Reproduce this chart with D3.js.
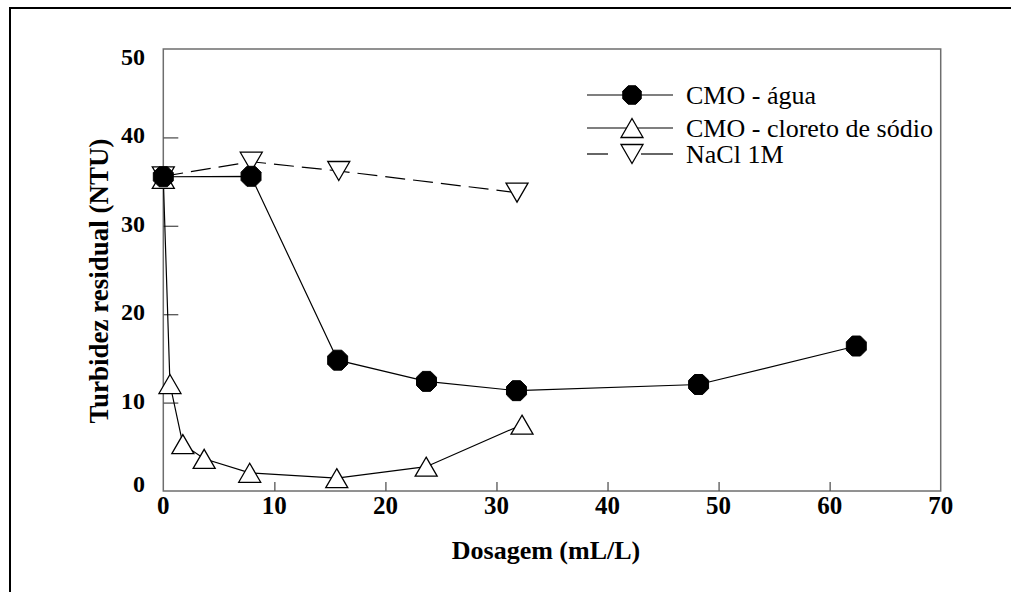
<!DOCTYPE html>
<html>
<head>
<meta charset="utf-8">
<title>Turbidez residual</title>
<script src="https://d3js.org/d3.v7.min.js"></script>
<style>
  body { margin: 0; background: #fff; }
  svg { display: block; font-family: "Liberation Serif", "Times New Roman", serif; }
</style>
</head>
<body>
<script>
// data
var aguaX = [0, 7.9, 15.7, 23.7, 31.8, 48.2, 62.4];
var aguaY = [35.55, 35.6, 14.8, 12.4, 11.35, 12.05, 16.4];

var cloretoX = [0, 0.6, 1.76, 3.68, 7.78, 15.62, 23.67, 32.3];
var cloretoY = [35.3, 12.1, 5.3, 3.64, 2.06, 1.45, 2.75, 7.5];

var naclX = [0, 7.92, 15.8, 31.85];
var naclY = [35.6, 37.25, 36.2, 33.75];

var xTicks = [0, 10, 20, 30, 40, 50, 60, 70];
var yTicks = [0, 10, 20, 30, 40, 50];
var seriesNames = ["CMO - água", "CMO - cloreto de sódio", "NaCl 1M"];

var width = 1015, height = 592;
var plotL = 163.3, plotR = 940.7, plotT = 49, plotB = 491;

var svg = d3.select("body").append("svg")
  .attr("width", width)
  .attr("height", height);

// outer frame (top and left edges only visible)
svg.append("line").attr("x1", 9).attr("y1", 8).attr("x2", 1011).attr("y2", 8)
  .attr("stroke", "#000").attr("stroke-width", 2);
svg.append("line").attr("x1", 10).attr("y1", 7).attr("x2", 10).attr("y2", height)
  .attr("stroke", "#000").attr("stroke-width", 2);

var x = d3.scaleLinear().domain([0, 70]).range([plotL, plotR]);
var y = d3.scaleLinear().domain([0, 50]).range([plotB, plotT]);

// plot frame
svg.append("rect")
  .attr("x", plotL).attr("y", plotT)
  .attr("width", plotR - plotL).attr("height", plotB - plotT)
  .attr("fill", "none").attr("stroke", "#6e6e6e").attr("stroke-width", 1.5);

// inward ticks
var xAxis = d3.axisBottom(x).tickValues(xTicks.slice(1, -1)).tickSizeInner(-9).tickSizeOuter(0).tickFormat("");
var yAxis = d3.axisLeft(y).tickValues(yTicks.slice(1, -1)).tickSizeInner(-15).tickSizeOuter(0).tickFormat("");
var gx = svg.append("g").attr("transform", "translate(0," + plotB + ")").call(xAxis);
var gy = svg.append("g").attr("transform", "translate(" + plotL + ",0)").call(yAxis);
gx.select(".domain").remove();
gy.select(".domain").remove();
gx.selectAll("line").attr("stroke", "#555").attr("stroke-width", 1.3);
gy.selectAll("line").attr("stroke", "#555").attr("stroke-width", 1.3);

// tick labels
svg.append("g").selectAll("text").data(xTicks).enter().append("text")
  .attr("x", function(d){ return x(d); })
  .attr("y", 514)
  .attr("text-anchor", "middle")
  .attr("font-size", 25).attr("font-weight", "bold")
  .text(function(d){ return d; });

svg.append("g").selectAll("text").data(yTicks).enter().append("text")
  .attr("x", 145)
  .attr("y", function(d){
    if (d == 50) return y(d) + 16;
    if (d == 0) return y(d) + 1;
    return y(d) + 6;
  })
  .attr("text-anchor", "end")
  .attr("font-size", 24).attr("font-weight", "bold")
  .text(function(d){ return d; });

// axis titles
svg.append("text")
  .attr("transform", "translate(108,281) rotate(-90)")
  .attr("text-anchor", "middle")
  .attr("font-size", 27).attr("font-weight", "bold")
  .text("Turbidez residual (NTU)");

svg.append("text")
  .attr("x", 546).attr("y", 559)
  .attr("text-anchor", "middle")
  .attr("font-size", 26).attr("font-weight", "bold")
  .text("Dosagem (mL/L)");

// markers
function octagon(g, r) {
  var pts = d3.range(8).map(function(i){
    var a = Math.PI / 8 + i * Math.PI / 4;
    return [r * Math.cos(a), r * Math.sin(a)];
  });
  return g.append("polygon").attr("points", pts.join(" "))
    .attr("fill", "#000").attr("stroke", "#000").attr("stroke-width", 1);
}
function triangle(g, up) {
  var w = 11, h = 9.5;
  var pts = up ? [[0, -h], [w, h], [-w, h]] : [[0, h], [w, -h], [-w, -h]];
  return g.append("polygon").attr("points", pts.join(" "))
    .attr("fill", "#fff").attr("stroke", "#000").attr("stroke-width", 1.3);
}

var line = d3.line().x(function(d){ return x(d[0]); }).y(function(d){ return y(d[1]); });

function drawSeries(xs, ys, dash, marker) {
  var pts = d3.zip(xs, ys);
  svg.append("path").datum(pts)
    .attr("d", line)
    .attr("fill", "none").attr("stroke", "#000").attr("stroke-width", 1.2)
    .attr("stroke-dasharray", dash);
  svg.append("g").selectAll("g").data(pts).enter().append("g")
    .attr("transform", function(d){ return "translate(" + x(d[0]) + "," + y(d[1]) + ")"; })
    .each(function(){ marker(d3.select(this)); });
}

drawSeries(naclX, naclY, "20,8", function(g){ triangle(g, false); });
drawSeries(cloretoX, cloretoY, null, function(g){ triangle(g, true); });
drawSeries(aguaX, aguaY, null, function(g){ octagon(g, 10.8); });

// legend
var legRows = [95, 128, 154];
var legMarkers = [
  function(g){ octagon(g, 10); },
  function(g){ triangle(g, true); },
  function(g){ triangle(g, false); }
];
var leg = svg.append("g");
legRows.forEach(function(ry, i){
  if (i < 2) {
    leg.append("line").attr("x1", 587).attr("x2", 673).attr("y1", ry).attr("y2", ry)
      .attr("stroke", "#000").attr("stroke-width", 1.2);
  } else {
    leg.append("line").attr("x1", 587).attr("x2", 608).attr("y1", ry).attr("y2", ry)
      .attr("stroke", "#000").attr("stroke-width", 1.2);
    leg.append("line").attr("x1", 641).attr("x2", 673).attr("y1", ry).attr("y2", ry)
      .attr("stroke", "#000").attr("stroke-width", 1.2);
  }
  var m = leg.append("g").attr("transform", "translate(632," + ry + ")");
  legMarkers[i](m);
  leg.append("text")
    .attr("x", 686).attr("y", ry + 9)
    .attr("font-size", 26)
    .text(seriesNames[i]);
});
</script>
</body>
</html>
